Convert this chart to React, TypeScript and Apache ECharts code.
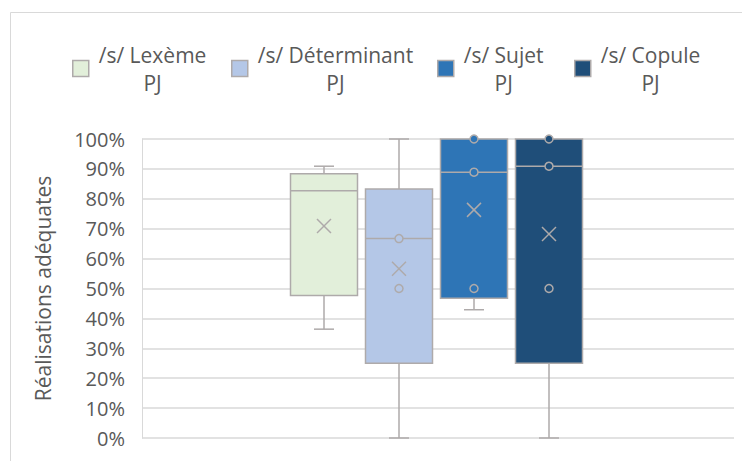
import React, { useEffect, useRef } from 'react';
import * as echarts from 'echarts';

const categories = ['PJ'];
const seriesNames = ['/s/ Lexème PJ', '/s/ Déterminant PJ', '/s/ Sujet PJ', '/s/ Copule PJ'];
const minValues = [0.364, 0, 0.429, 0];
const q1Values = [0.477, 0.25, 0.467, 0.25];
const medianValues = [0.827, 0.667, 0.889, 0.909];
const q3Values = [0.884, 0.833, 1, 1];
const maxValues = [0.909, 1, 1, 1];
const meanValues = [0.709, 0.566, 0.763, 0.682];
const innerPoints: number[][] = [[], [0.667, 0.5], [1, 0.889, 0.5], [1, 0.909, 0.5]];
const yTickValues = [0, 0.1, 0.2, 0.3, 0.4, 0.5, 0.6, 0.7, 0.8, 0.9, 1];
const colors = ['#E2EFDA', '#B4C7E7', '#2E75B6', '#1F4E79'];

const FONT = '"Open Sans", "Noto Sans", sans-serif';
const TEXT = '#595959';
const STROKE = '#AEAAAA';

export default function App() {
  const ref = useRef<HTMLDivElement>(null);
  useEffect(() => {
    if (!ref.current) return;
    const chart = echarts.init(ref.current, undefined, { renderer: 'svg' });
    const legendLefts = [72, 231, 437, 574];

    const series = seriesNames.map((name, i) => ({
      type: 'custom',
      name,
      itemStyle: { color: colors[i] },
      encode: { x: 0, y: [1, 2, 3, 4, 5, 6] },
      clip: false,
      data: [[0, minValues[i], q1Values[i], medianValues[i], q3Values[i], maxValues[i], meanValues[i]]],
      renderItem: (params: any, api: any) => {
        const si = params.seriesIndex;
        const xc = api.coord([0, 0])[0] + (si - 1.5) * 75 - 1.5;
        const y = (v: number) => api.coord([0, v])[1];
        const vMin = api.value(1), vQ1 = api.value(2), vMed = api.value(3), vQ3 = api.value(4), vMax = api.value(5), vMean = api.value(6);
        const hw = 33.5;
        const cap = 10;
        const ls = { stroke: STROKE, lineWidth: 1.5 };
        const children: any[] = [];
        if (vMax > vQ3) {
          children.push({ type: 'line', shape: { x1: xc, y1: y(vQ3), x2: xc, y2: y(vMax) }, style: ls });
          children.push({ type: 'line', shape: { x1: xc - cap, y1: y(vMax), x2: xc + cap, y2: y(vMax) }, style: ls });
        }
        if (vMin < vQ1) {
          children.push({ type: 'line', shape: { x1: xc, y1: y(vQ1), x2: xc, y2: y(vMin) }, style: ls });
          children.push({ type: 'line', shape: { x1: xc - cap, y1: y(vMin), x2: xc + cap, y2: y(vMin) }, style: ls });
        }
        children.push({
          type: 'rect',
          shape: { x: xc - hw, y: y(vQ3), width: hw * 2, height: y(vQ1) - y(vQ3) },
          style: { fill: colors[si], stroke: STROKE, lineWidth: 1.5 },
        });
        children.push({ type: 'line', shape: { x1: xc - hw, y1: y(vMed), x2: xc + hw, y2: y(vMed) }, style: ls });
        const m = 7;
        const ym = y(vMean);
        children.push({ type: 'line', shape: { x1: xc - m, y1: ym - m, x2: xc + m, y2: ym + m }, style: ls });
        children.push({ type: 'line', shape: { x1: xc - m, y1: ym + m, x2: xc + m, y2: ym - m }, style: ls });
        innerPoints[si].forEach((p) => {
          children.push({ type: 'circle', shape: { cx: xc, cy: y(p), r: 4 }, style: { fill: colors[si], stroke: STROKE, lineWidth: 1.5 } });
        });
        return { type: 'group', children };
      },
    }));

    const option: any = {
      animation: false,
      backgroundColor: '#ffffff',
      grid: { left: 142, right: 8, top: 139, bottom: 23, containLabel: false },
      legend: seriesNames.map((name, i) => ({
        left: legendLefts[i],
        top: 44,
        padding: 0,
        itemWidth: 16,
        itemHeight: 16,
        selectedMode: false,
        data: [{ name, icon: 'rect', itemStyle: { color: colors[i], borderColor: STROKE, borderWidth: 1.5 } }],
        formatter: (n: string) => {
          const parts = n.split(' PJ');
          return `{a|${parts[0]}}\n{a|PJ}`;
        },
        textStyle: {
          rich: {
            a: { align: 'center', fontSize: 21, lineHeight: 28, padding: [0, 0, 0, 5], color: TEXT, fontFamily: FONT },
          },
        },
      })),
      xAxis: {
        type: 'category',
        data: categories,
        axisLabel: { show: false },
        axisTick: { show: false },
        axisLine: { show: false },
        splitLine: { show: false },
      },
      yAxis: {
        type: 'value',
        min: yTickValues[0],
        max: yTickValues[yTickValues.length - 1],
        interval: 0.1,
        name: 'Réalisations adéquates',
        nameLocation: 'middle',
        nameGap: 89,
        nameTextStyle: { fontSize: 21, color: TEXT, fontFamily: FONT },
        axisLine: { show: true, lineStyle: { color: '#D9D9D9', width: 1 } },
        axisTick: { show: false },
        axisLabel: {
          margin: 17,
          fontSize: 20,
          color: TEXT,
          fontFamily: FONT,
          formatter: (v: number) => `${Math.round(v * 100)}%`,
        },
        splitLine: { show: true, lineStyle: { color: '#D9D9D9', width: 1.5 } },
      },
      graphic: [
        {
          type: 'rect',
          silent: true,
          shape: { x: 10.5, y: 12.5, width: 800, height: 500 },
          style: { fill: 'none', stroke: '#D9D9D9', lineWidth: 1 },
        },
      ],
      series,
    };
    chart.setOption(option);
    return () => chart.dispose();
  }, []);
  return <div ref={ref} style={{ position: 'fixed', left: 0, top: 0, width: 742, height: 461 }} />;
}
